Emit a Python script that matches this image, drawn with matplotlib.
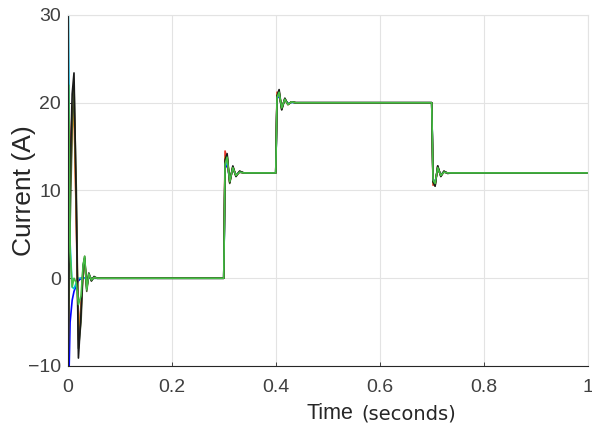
import numpy as np
import matplotlib
matplotlib.use("Agg")
import matplotlib.pyplot as plt

# time grid shared by every phase current (seconds)
t = [0.0, 0.0015, 0.004, 0.008, 0.0115, 0.016, 0.020, 0.025, 0.029, 0.032, 0.036, 0.040, 0.045, 0.050, 0.056, 0.065,
     0.2995, 0.302, 0.306, 0.311, 0.317, 0.323, 0.330, 0.338,
     0.3995, 0.402, 0.406, 0.411, 0.417, 0.423, 0.430, 0.438,
     0.6995, 0.702, 0.706, 0.711, 0.717, 0.723, 0.730, 0.738,
     1.0]

i_blue = [40, -12, -5, -2.5, -1.5, -0.8, -0.3, 0, 0.1, 0, 0, 0, 0, 0, 0, 0,
          0, 12.5, 13.0, 11.3, 12.4, 11.8, 12.1, 12.0,
          12, 20.5, 20.8, 19.5, 20.3, 19.9, 20.05, 20.0,
          20, 11.3, 10.9, 12.5, 11.8, 12.1, 12.0, 12.0,
          12.0]
i_cyan = [36, 24, 4, -1, -1.2, -0.5, 0, 0, 0, 0, 0, 0, 0, 0, 0, 0,
          0, 12.8, 13.2, 11.2, 12.5, 11.8, 12.1, 12.0,
          12, 20.6, 20.9, 19.4, 20.3, 19.9, 20.05, 20.0,
          20, 11.2, 10.8, 12.5, 11.8, 12.1, 12.0, 12.0,
          12.0]
i_red = [-10, 5, 14, 19, 20, 6, -7, -3, 1, 2, -1, 0.4, -0.2, 0.1, 0, 0,
         0, 14.5, 13.6, 11.0, 12.6, 11.7, 12.1, 12.0,
         12, 21.2, 21.0, 19.4, 20.4, 19.8, 20.1, 20.0,
         20, 10.6, 10.8, 12.6, 11.7, 12.1, 12.0, 12.0,
         12.0]
i_orange = [-10, 2, 10, 17, 19, 7, -6, -3.5, 0.8, 1.8, -0.9, 0.3, -0.1, 0.1, 0, 0,
            0, 13.8, 13.9, 10.9, 12.7, 11.7, 12.1, 12.0,
            12, 21.0, 21.2, 19.3, 20.4, 19.8, 20.1, 20.0,
            20, 10.8, 10.6, 12.7, 11.7, 12.1, 12.0, 12.0,
            12.0]
i_olive = [-10, -5, 6, 17, 22, 10, -8, -5, 1, 2.5, -1.5, 0.5, -0.3, 0.1, 0, 0,
           0, 13.2, 14.0, 10.8, 12.7, 11.6, 12.2, 12.0,
           12, 20.7, 21.3, 19.2, 20.5, 19.8, 20.1, 20.0,
           20, 11.0, 10.5, 12.8, 11.6, 12.2, 11.95, 12.0,
           12.0]
i_black = [-10, 0, 12, 21, 23.4, 8, -9.1, -4, 1.5, 2.3, -1.2, 0.6, -0.3, 0.2, 0, 0,
           0, 13.5, 14.2, 10.9, 12.8, 11.6, 12.2, 12.0,
           12, 20.8, 21.5, 19.2, 20.5, 19.8, 20.1, 20.0,
           20, 11.0, 10.5, 12.8, 11.6, 12.2, 11.95, 12.0,
           12.0]
i_green = [-10, 22, 3, -1, 0, -0.5, -3, -2, 1.5, 2.5, -1.3, 0.5, -0.2, 0.1, 0, 0,
           0, 13.0, 13.8, 11.0, 12.6, 11.7, 12.1, 12.0,
           12, 20.6, 21.2, 19.4, 20.4, 19.8, 20.1, 20.0,
           20, 11.2, 10.8, 12.6, 11.7, 12.1, 12.0, 12.0,
           12.0]

xticks = [0, 0.2, 0.4, 0.6, 0.8, 1]
xlabels = ["0", "0.2", "0.4", "0.6", "0.8", "1"]
yticks = [-10, 0, 10, 20, 30]

series = [(i_blue, "#0000ff"), (i_cyan, "#00bfdf"), (i_red, "#e8332a"),
          (i_orange, "#e09020"), (i_olive, "#4a5a2a"), (i_black, "#1a1a1a"),
          (i_green, "#45bf45")]

fig = plt.figure(figsize=(5.92, 4.28), dpi=100)
ax = fig.add_axes([0.1149, 0.1449, 0.8783, 0.8201])

for y, c in series:
    ax.plot(t, y, color=c, lw=1.2)

ax.set_xlim(0, 1)
ax.set_ylim(-10, 30)
ax.set_xticks(xticks)
ax.set_xticklabels(xlabels)
ax.set_yticks(yticks)
ax.grid(True, color="#e3e3e3", lw=0.8)
ax.set_axisbelow(True)

for s in ["top", "right"]:
    ax.spines[s].set_color("#e3e3e3")
for s in ["left", "bottom"]:
    ax.spines[s].set_color("#262626")
    ax.spines[s].set_linewidth(0.8)

ax.tick_params(direction="in", length=3, width=0.6, color="#262626",
               labelsize=14, labelcolor="#404040")
ax.tick_params(axis="x", pad=9.5)
ax.tick_params(axis="y", pad=5)
ax.tick_params(top=False, right=False)
for lab in ax.get_xticklabels() + ax.get_yticklabels():
    lab.set_family("Liberation Sans")

ax.set_ylabel("Current (A)", fontsize=19, family="Liberation Sans", color="#262626")
ax.yaxis.set_label_coords(-0.062, 0.5)

fig.text(307 / 592, 0.021, "Time", fontsize=15.5, family="Liberation Sans", color="#262626", va="baseline")
fig.text(361 / 592, 0.021, "(seconds)", fontsize=14, family="DejaVu Sans", color="#262626", va="baseline")

fig.savefig("out.png", dpi=100)
